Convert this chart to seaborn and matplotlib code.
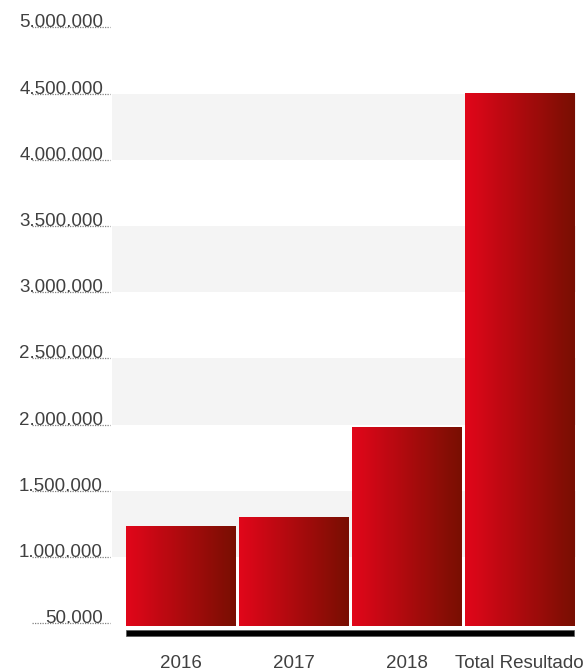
import numpy as np
import pandas as pd
import matplotlib
matplotlib.use("Agg")
import matplotlib.pyplot as plt
import matplotlib.transforms as mtransforms
from matplotlib.colors import LinearSegmentedColormap
from matplotlib.patches import Rectangle
import seaborn as sns

# --- data ---
categories = ["2016", "2017", "2018", "Total Resultado"]
values = [1235000, 1303000, 1977000, 4500000]
tick_values = [5000000, 4500000, 4000000, 3500000, 3000000,
               2500000, 2000000, 1500000, 1000000, 500000]
tick_labels = ["5.000.000", "4.500.000", "4.000.000", "3.500.000", "3.000.000",
               "2.500.000", "2.000.000", "1.500.000", "1.000.000", "50.000"]
band_ranges = [(1000000, 1500000), (2000000, 2500000),
               (3000000, 3500000), (4000000, 4500000)]

sns.set_theme(style="white")
plt.rcParams["font.family"] = ["Liberation Sans", "DejaVu Sans"]

W, H = 586, 672
Y_MIN, Y_MAX = 482000, 5000000
X_MIN, X_MAX = -0.606, 3.50
TEXT_COLOR = "#404040"

fig = plt.figure(figsize=(W / 100, H / 100), dpi=100)
ax = fig.add_axes([112 / W, (H - 625.7) / H, 464 / W, 598.4 / H])

df = pd.DataFrame({"cat": categories, "val": values})
sns.barplot(data=df, x="cat", y="val", width=0.965, color="#c00000",
            linewidth=0, ax=ax, zorder=3)
bars = list(ax.patches)

# alternating light bands
for lo, hi in band_ranges:
    ax.axhspan(lo, hi, color="#f4f4f4", zorder=0, linewidth=0)

# red-to-dark horizontal gradient inside every bar
cmap = LinearSegmentedColormap.from_list("redgrad", ["#e2061a", "#780f02"])
grad = np.linspace(0, 1, 256).reshape(1, -1)
for p in bars:
    x0, w, h = p.get_x(), p.get_width(), p.get_height()
    ax.imshow(grad, cmap=cmap, aspect="auto", interpolation="bilinear",
              extent=[x0, x0 + w, Y_MIN, h], zorder=3)
    p.set_visible(False)

ax.set_xlim(X_MIN, X_MAX)
ax.set_ylim(Y_MIN, Y_MAX)

# black base strip under the bars
first, last = bars[0], bars[-1]
trans = mtransforms.blended_transform_factory(ax.transData, ax.transAxes)
ax.add_patch(Rectangle((first.get_x(), -0.0172),
                       last.get_x() + last.get_width() - first.get_x(), 0.0105,
                       transform=trans, facecolor="#000000", edgecolor="#555555",
                       linewidth=0.5, clip_on=False, zorder=4))

# y labels sitting on dotted guide lines
ax.set_yticks([])
ytrans = mtransforms.blended_transform_factory(fig.transFigure, ax.transData)
for v, lab in zip(tick_values, tick_labels):
    ax.plot([32 / W, 110 / W], [v, v], transform=ytrans, color="#808080",
            linestyle=(0, (1, 1)), linewidth=0.9, clip_on=False)
    ax.text(103 / W, v, lab, transform=ytrans, ha="right", va="baseline",
            fontsize=13.5, color=TEXT_COLOR, clip_on=False)

ax.set_xticks(range(len(categories)))
ax.set_xticklabels(categories, fontsize=13.5, color=TEXT_COLOR)
ax.tick_params(axis="x", length=0, pad=21)
ax.set_xlabel("")
ax.set_ylabel("")
for s in ax.spines.values():
    s.set_visible(False)

fig.savefig("out.png", dpi=100)
